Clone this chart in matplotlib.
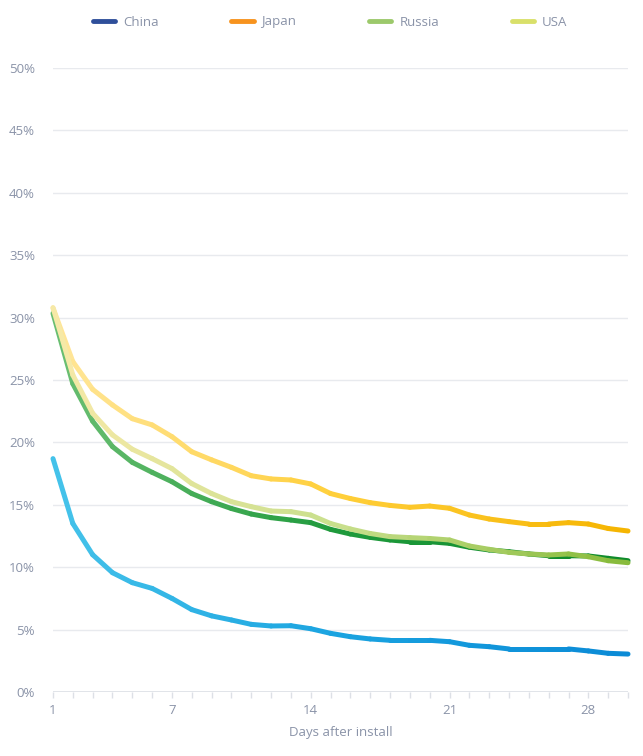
import numpy as np
import matplotlib
matplotlib.use("Agg")
import matplotlib.pyplot as plt
from matplotlib.collections import LineCollection
from matplotlib.colors import LinearSegmentedColormap
from matplotlib.lines import Line2D

days = list(range(1, 31))
china = [18.7, 13.5, 11.0, 9.56, 8.76, 8.3, 7.5, 6.6, 6.1, 5.77, 5.42, 5.29, 5.31, 5.07, 4.7,
         4.43, 4.25, 4.14, 4.14, 4.14, 4.03, 3.74, 3.63, 3.45, 3.45, 3.45, 3.45, 3.29, 3.1, 3.04]
japan = [30.77, 26.47, 24.25, 23.0, 21.9, 21.4, 20.46, 19.25, 18.6, 18.0, 17.33, 17.07, 16.99, 16.67, 15.9,
         15.5, 15.17, 14.95, 14.8, 14.9, 14.72, 14.18, 13.86, 13.65, 13.46, 13.46, 13.57, 13.46, 13.1, 12.9]
russia = [30.34, 24.7, 21.7, 19.66, 18.4, 17.6, 16.85, 15.9, 15.25, 14.7, 14.26, 13.97, 13.78, 13.57, 13.03,
          12.66, 12.39, 12.18, 12.04, 12.04, 11.91, 11.6, 11.38, 11.24, 11.06, 10.92, 10.92, 10.9, 10.71, 10.52]
usa = [30.8, 25.4, 22.33, 20.6, 19.45, 18.7, 17.9, 16.7, 15.9, 15.25, 14.85, 14.5, 14.45, 14.18, 13.5,
       13.06, 12.7, 12.45, 12.37, 12.3, 12.18, 11.7, 11.43, 11.19, 11.06, 10.98, 11.06, 10.84, 10.52, 10.36]
series_names = ["China", "Japan", "Russia", "USA"]
x_tick_labels = [1, 7, 14, 21, 28]
y_ticks = [0, 5, 10, 15, 20, 25, 30, 35, 40, 45, 50]

line_grad = {
    "China": ["#45c3ea", "#1aa3e0", "#0a8ad6"],
    "Japan": ["#ffe69a", "#ffcf3a", "#f5b400"],
    "Russia": ["#6bbf73", "#1f9a3c", "#0e8a2a"],
    "USA": ["#f7e9a8", "#c8df8c", "#86ba3a"],
}
legend_colors = {"China": "#2f4f9a", "Japan": "#f7931e", "Russia": "#9cc96b", "USA": "#d9e06a"}
text_color = "#8a93a8"

plt.rcParams['font.family'] = ['Open Sans', 'DejaVu Sans']

W, H = 643, 756
fig = plt.figure(figsize=(W / 100, H / 100), dpi=100)
ax = fig.add_axes([53 / W, 1 - 692 / H, (628 - 53) / W, (692 - 68) / H])
ax.set_xlim(1, 30)
ax.set_ylim(0, 50)

for s in ax.spines.values():
    s.set_visible(False)

ax.set_yticks(y_ticks)
ax.set_yticklabels([f"{v}%" for v in y_ticks])
ax.yaxis.grid(True, color="#e8eaee", linewidth=1.0)
ax.set_axisbelow(True)
ax.tick_params(axis='y', length=0, pad=13, labelsize=9.5, labelcolor=text_color)

ax.set_xticks(x_tick_labels)
ax.set_xticklabels([str(v) for v in x_tick_labels])
ax.set_xticks(days, minor=True)
ax.tick_params(axis='x', which='both', length=4, color="#dde0e6", width=1,
               labelsize=9.5, labelcolor=text_color, pad=5)
ax.axhline(0, color="#dde0e6", linewidth=1.2, zorder=1)
ax.set_xlabel("Days after install", color=text_color, fontsize=9.5, labelpad=6)


def grad_line(xs, ys, colors, z):
    xs = np.asarray(xs, float)
    ys = np.asarray(ys, float)
    cmap = LinearSegmentedColormap.from_list("g", colors)
    pts = np.column_stack([xs, ys]).reshape(-1, 1, 2)
    segs = np.concatenate([pts[:-1], pts[1:]], axis=1)
    mids = (xs[:-1] + xs[1:]) / 2
    t = (mids - xs.min()) / (xs.max() - xs.min())
    lc = LineCollection(segs, colors=cmap(t), linewidths=3.6, capstyle='round',
                        joinstyle='round', zorder=z, clip_on=False)
    ax.add_collection(lc)


grad_line(days, china, line_grad["China"], 3)
grad_line(days, japan, line_grad["Japan"], 3)
grad_line(days, russia, line_grad["Russia"], 4)
grad_line(days, usa, line_grad["USA"], 5)

handles = [Line2D([0], [0], color=legend_colors[n], linewidth=3.5, solid_capstyle='round')
           for n in series_names]
leg = fig.legend(handles, series_names, loc='center', bbox_to_anchor=(330 / W, 1 - 22 / H),
                 ncol=4, frameon=False, fontsize=9.5, handlelength=1.7, handletextpad=0.6,
                 columnspacing=5.5)
for t in leg.get_texts():
    t.set_color(text_color)

fig.savefig("out.png", dpi=100, facecolor="white")
